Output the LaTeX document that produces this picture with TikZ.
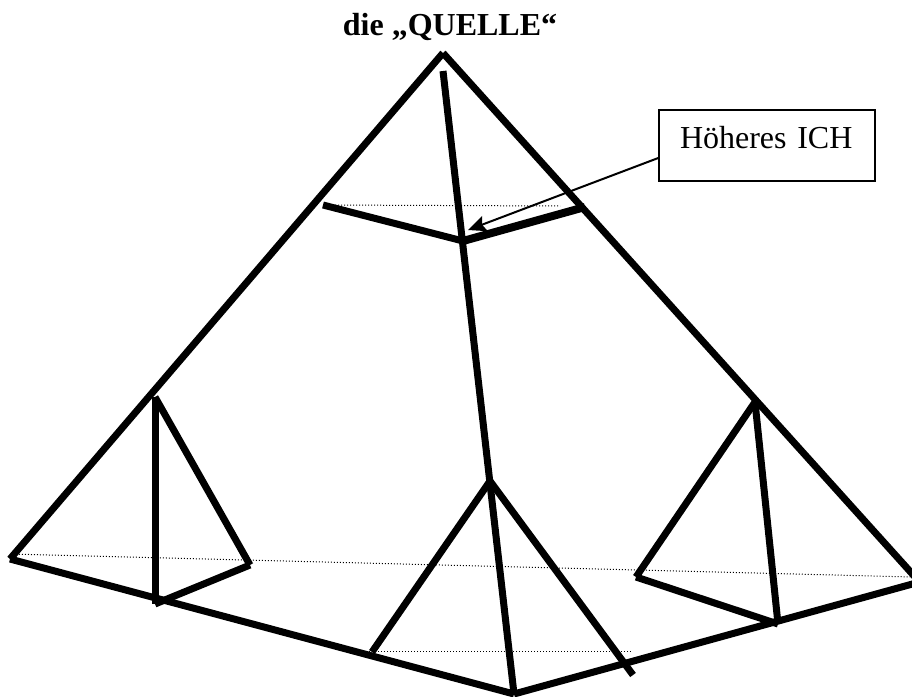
\documentclass[tikz,border=0pt]{standalone}
\usepackage{fontspec}
\setmainfont{Liberation Serif}
\usepackage{xcolor}
\usetikzlibrary{arrows.meta,positioning}

\begin{document}
\begin{tikzpicture}[
x=1pt, y=-1pt,
edge/.style={line width=7pt},
edgeheavy/.style={line width=8pt},
hidden/.style={line width=1pt, dotted},
pointer/.style={-{Stealth[length=18pt,width=16pt,inset=3pt]}, line width=2pt},
labelbox/.style={draw, line width=1.5pt, fill=white, minimum width=216pt, minimum height=71pt, text width=174pt, align=left, text depth=17pt, font=\fontsize{32}{36}\selectfont, inner sep=0pt},
title/.style={font=\fontsize{32}{36}\selectfont\bfseries, inner sep=0pt, anchor=base}
]
\useasboundingbox (0,0) rectangle (912,696);

\coordinate (apex) at (443,53);
\coordinate (baseL) at (10,559);
\coordinate (baseR) at (916,578);
\coordinate (baseM) at (514,694);
\coordinate (axis) at (443,71);
\coordinate (frontR) at (916,583);

\coordinate (topL) at (323,205);
\coordinate (topM) at (463,241);
\coordinate (topR) at (585,207);
\coordinate (topD) at (560,206);
\coordinate (pointtip) at (468,230);

\coordinate (lA) at (155,397);
\coordinate (lB) at (155,604);
\coordinate (lC) at (250,565);

\coordinate (mA) at (490,481);
\coordinate (mL) at (372,652);
\coordinate (mR) at (633,675);
\coordinate (mD1) at (357,651);
\coordinate (mD2) at (632,651);

\coordinate (rA) at (755,402);
\coordinate (rL) at (636,577);
\coordinate (rB) at (778,624);

\coordinate (dotL) at (10,554);
\coordinate (dotR) at (912,577);

\node[title] (quelle) at (450,35) {die ,,QUELLE``};
\node[labelbox] (hoeher) at (767,145.5) {Höheres ICH};

% hidden lines
\draw[hidden] (dotL) -- (dotR);
\draw[hidden] (topL) -- (topD);
\draw[hidden] (mD1) -- (mD2);

% outer pyramid
\draw[edge] (baseL) -- (apex);
\draw[edge] (apex) -- (baseR);
\draw[edge] (baseL) -- (baseM);
\draw[edge] (baseM) -- (frontR);
\draw[edge] (axis) -- (baseM);

% top section
\draw[edge] (topL) -- (topM);
\draw[edgeheavy] (topM) -- (topR);

% left pyramid
\draw[edge] (lA) -- (lB);
\draw[edge] (lA) -- (lC);
\draw[edge] (lC) -- (lB);

% middle pyramid
\draw[edge] (mA) -- (mL);
\draw[edge] (mA) -- (mR);

% right pyramid
\draw[edge] (rA) -- (rL);
\draw[edge] (rA) -- (rB);
\draw[edge] (rL) -- (rB);

\draw[pointer] ([yshift=-12.5pt]hoeher.west) -- (pointtip);
\end{tikzpicture}
\end{document}
